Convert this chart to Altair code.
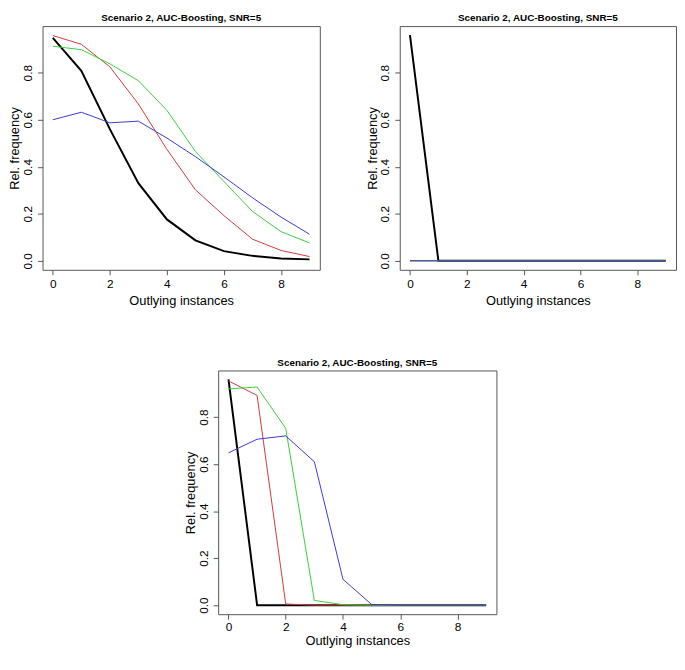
import altair as alt
import pandas as pd

x_vals = list(range(10))
series_names = ["black", "red", "green", "blue"]
series_colors = ["#000000", "#D03A3A", "#3ACD3A", "#3A3ACD"]
series_widths = [2, 1, 1, 1]

title_text = "Scenario 2, AUC-Boosting, SNR=5"
x_title = "Outlying instances"
y_title = "Rel. frequency"
x_ticks = [0, 2, 4, 6, 8]
y_ticks = [0.0, 0.2, 0.4, 0.6, 0.8]

# Panel 1 (top-left)
p1_black = [0.948, 0.808, 0.560, 0.330, 0.176, 0.087, 0.041, 0.021, 0.010, 0.006]
p1_red = [0.958, 0.921, 0.825, 0.667, 0.474, 0.302, 0.192, 0.092, 0.044, 0.018]
p1_green = [0.913, 0.898, 0.838, 0.766, 0.640, 0.465, 0.337, 0.210, 0.124, 0.076]
p1_blue = [0.600, 0.632, 0.587, 0.594, 0.522, 0.443, 0.357, 0.268, 0.186, 0.113]

# Panel 2 (top-right)
p2_black = [0.96, 0, 0, 0, 0, 0, 0, 0, 0, 0]
p2_red = [0, 0, 0, 0, 0, 0, 0, 0, 0, 0]
p2_green = [0, 0, 0, 0, 0, 0, 0, 0, 0, 0]
p2_blue = [0, 0, 0, 0, 0, 0, 0, 0, 0, 0]

# Panel 3 (bottom)
p3_black = [0.961, 0, 0, 0, 0, 0, 0, 0, 0, 0]
p3_red = [0.954, 0.892, 0.005, 0, 0, 0, 0, 0, 0, 0]
p3_green = [0.920, 0.928, 0.752, 0.020, 0.002, 0, 0, 0, 0, 0]
p3_blue = [0.648, 0.706, 0.720, 0.610, 0.110, 0.003, 0, 0, 0, 0]


def make_df(vals):
    rows = []
    for name, ys in zip(series_names, vals):
        for x, y in zip(x_vals, ys):
            rows.append({"x": x, "y": y, "series": name})
    return pd.DataFrame(rows)


def panel(vals, width, height, x_label_pad, x_title_pad):
    df = make_df(vals)
    xs = alt.Scale(domain=[-0.36, 9.36], nice=False, zero=False)
    ys = alt.Scale(domain=[-0.0384, 0.9984], nice=False, zero=False)
    layers = []
    for name, color, sw in zip(series_names, series_colors, series_widths):
        layers.append(
            alt.Chart(df)
            .transform_filter(alt.datum.series == name)
            .mark_line(color=color, strokeWidth=sw, clip=True)
            .encode(
                x=alt.X("x:Q", scale=xs,
                        axis=alt.Axis(values=x_ticks, format="d", title=x_title,
                                      labelPadding=x_label_pad,
                                      titlePadding=x_title_pad)),
                y=alt.Y("y:Q", scale=ys,
                        axis=alt.Axis(values=y_ticks, format=".1f", title=y_title)),
            )
        )
    return alt.layer(*layers).properties(
        width=width,
        height=height,
        title=alt.TitleParams(title_text, font="Liberation Sans", fontSize=10,
                              fontWeight="bold", anchor="middle", offset=3,
                              color="#000000"),
    )


c1 = panel([p1_black, p1_red, p1_green, p1_blue], 281, 247, 4, 5)
c2 = panel([p2_black, p2_red, p2_green, p2_blue], 280, 247, 4, 5)
c3 = panel([p3_black, p3_red, p3_green, p3_blue], 282, 247, 3, 2)

spacer = (
    alt.Chart(pd.DataFrame({"x": [0]}))
    .mark_point(opacity=0)
    .encode(x=alt.X("x:Q", axis=None), y=alt.value(0))
    .properties(width=142, height=10, view=alt.ViewBackground(stroke="transparent"))
)

top = alt.hconcat(c1, c2, spacing=45)
bottom = alt.hconcat(spacer, c3, spacing=0)
chart = (
    alt.vconcat(top, bottom, spacing=49)
    .properties(padding=0)
    .configure_view(stroke="#555555", strokeWidth=1)
    .configure_axis(
        domain=False,
        grid=False,
        tickColor="#555555",
        tickSize=5,
        labelFont="Liberation Sans",
        labelFontSize=12,
        labelColor="#000000",
        titleFont="Liberation Sans",
        titleFontSize=13,
        titleFontWeight="normal",
        titleColor="#000000",
    )
    .configure_axisY(labelAngle=270, labelPadding=3, titlePadding=0)
)

chart.save("out.html", embed_options={"renderer": "svg", "actions": False})
